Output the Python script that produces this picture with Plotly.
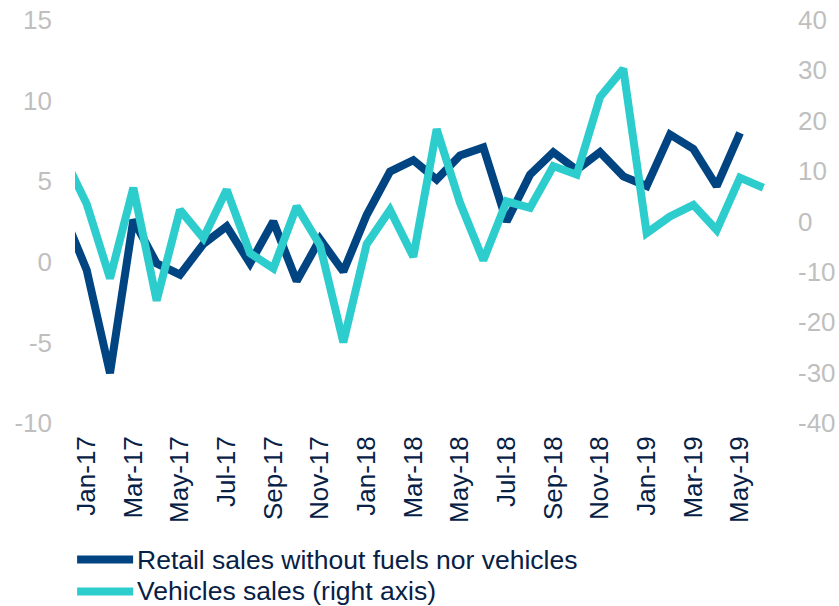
import plotly.graph_objects as go

# Month categories (Dec-16 lies just left of the visible range; the line is clipped there)
months = ["Dec-16",
          "Jan-17", "Feb-17", "Mar-17", "Apr-17", "May-17", "Jun-17",
          "Jul-17", "Aug-17", "Sep-17", "Oct-17", "Nov-17", "Dec-17",
          "Jan-18", "Feb-18", "Mar-18", "Apr-18", "May-18", "Jun-18",
          "Jul-18", "Aug-18", "Sep-18", "Oct-18", "Nov-18", "Dec-18",
          "Jan-19", "Feb-19", "Mar-19", "Apr-19", "May-19", "Jun-19"]

# Retail sales without fuels nor vehicles (left axis), Dec-16 .. May-19
retail = [3.0,
          -0.5, -6.9, 2.6, -0.1, -0.8, 1.1,
          2.2, -0.1, 2.5, -1.2, 1.4, -0.6,
          2.9, 5.6, 6.3, 5.1, 6.6, 7.1,
          2.5, 5.4, 6.8, 5.7, 6.8, 5.3,
          4.7, 7.9, 7.0, 4.7, 8.0]

# Vehicles sales (right axis), Dec-16 .. Jun-19
vehicles = [13.0,
            3.5, -11.3, 6.7, -15.7, 2.3, -3.3,
            6.3, -6.3, -9.3, 3.0, -4.7, -24.0,
            -4.5, 2.3, -7.0, 18.3, 3.7, -7.7,
            4.0, 2.7, 11.0, 9.3, 24.7, 30.3,
            -2.3, 1.0, 3.3, -1.7, 8.7, 6.7]

series_names = ["Retail sales without fuels nor vehicles", "Vehicles sales (right axis)"]
left_ticks = [-10, -5, 0, 5, 10, 15]
right_ticks = [-40, -30, -20, -10, 0, 10, 20, 30, 40]

NAVY = "#004481"
AQUA = "#2DCCCD"
TEXT = "#072146"
GRAY = "#BFBFBF"
AXIS = "#D9D9D9"
FONT = "Liberation Sans, Arial, sans-serif"

# numeric positions: Jan-17 -> 0
xpos = list(range(-1, len(months) - 1))
label_idx = list(range(1, len(months), 2))
tickvals = [xpos[i] for i in label_idx]
ticktext = [months[i] for i in label_idx]
boundaries = [v - 0.5 for v in tickvals] + [tickvals[-1] + 1.5]
xrange = [-0.5, xpos[-1] + 0.5]

fig = go.Figure()
fig.add_trace(go.Scatter(x=xpos[:len(retail)], y=retail, mode="lines",
                         line=dict(color=NAVY, width=8), name=series_names[0],
                         yaxis="y", xaxis="x"))
fig.add_trace(go.Scatter(x=xpos[:len(vehicles)], y=vehicles, mode="lines",
                         line=dict(color=AQUA, width=8), name=series_names[1],
                         yaxis="y2", xaxis="x"))

fig.update_layout(
    template="none",
    width=839, height=606,
    margin=dict(l=75, r=64, t=20, b=183, autoexpand=False),
    paper_bgcolor="white", plot_bgcolor="white",
    showlegend=False,
    font=dict(family=FONT, size=26, color=TEXT),
    xaxis=dict(range=xrange, tickmode="array", tickvals=tickvals, ticktext=ticktext,
               tickangle=-90, showline=False, showgrid=False, zeroline=False,
               ticks="", tickfont=dict(size=26, color=TEXT), ticklabelstandoff=7,
               automargin=False),
    xaxis2=dict(range=xrange, overlaying="x", anchor="free", position=0.4,
                showline=True, linecolor=AXIS, linewidth=1,
                ticks="outside", ticklen=6, tickcolor=AXIS, tickwidth=1,
                tickmode="array", tickvals=boundaries, showticklabels=False,
                showgrid=False, zeroline=False, automargin=False),
    yaxis=dict(range=[left_ticks[0], left_ticks[-1]], tickmode="array", tickvals=left_ticks,
               ticktext=[str(v) for v in left_ticks],
               showgrid=False, zeroline=False, showline=False, ticks="",
               tickfont=dict(size=26, color=GRAY), ticklabelstandoff=22, automargin=False),
    yaxis2=dict(range=[right_ticks[0], right_ticks[-1]], tickmode="array", tickvals=right_ticks,
                ticktext=[str(v) for v in right_ticks],
                overlaying="y", side="right", showgrid=False, zeroline=False,
                showline=False, ticks="", tickfont=dict(size=26, color=GRAY),
                ticklabelstandoff=22, automargin=False),
)

# Custom legend below the chart
legend_rows = [(-0.339, NAVY), (-0.418, AQUA)]
for (ypos, col), name in zip(legend_rows, series_names):
    fig.add_shape(type="line", xref="paper", yref="paper",
                  x0=0.003, x1=0.083, y0=ypos, y1=ypos,
                  line=dict(color=col, width=8))
    fig.add_annotation(xref="paper", yref="paper", x=0.086, y=ypos,
                       text=name, showarrow=False, xanchor="left", yanchor="middle",
                       font=dict(size=26.5, color=TEXT, family=FONT))

fig.write_html("out.html", config={"displayModeBar": False},
               post_script="document.body.style.margin='0';document.body.style.overflow='hidden';")
